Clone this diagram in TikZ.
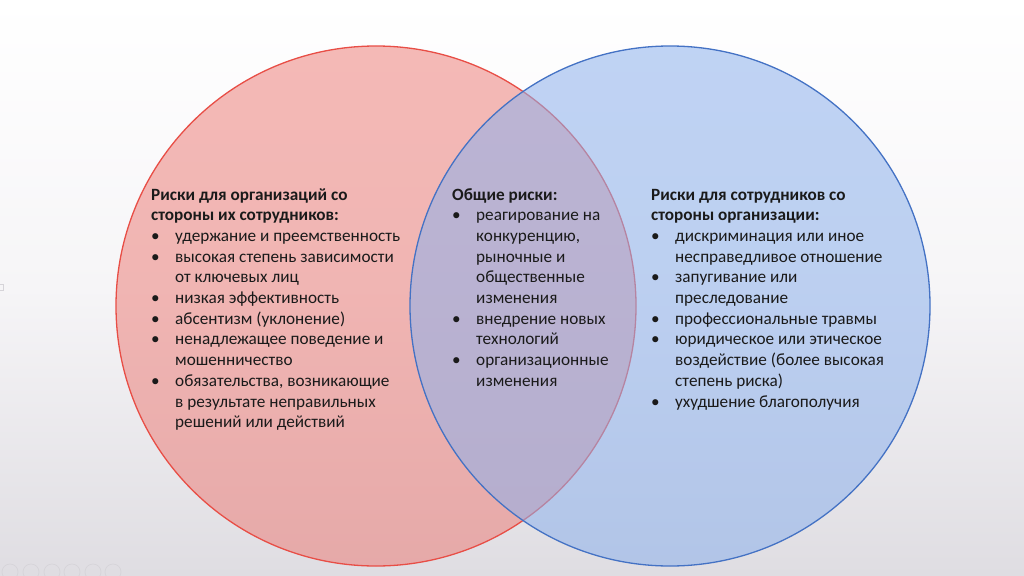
\documentclass[tikz,border=0pt]{standalone}
\usepackage{fontspec}
\setmainfont{Carlito}
\definecolor{bgbot}{RGB}{223,221,226}
\definecolor{redfill}{RGB}{236,118,112}
\definecolor{redline}{RGB}{232,78,70}
\definecolor{bluefill}{RGB}{141,177,236}
\definecolor{blueline}{RGB}{68,114,196}
\definecolor{txt}{RGB}{26,26,26}
\definecolor{iconline}{RGB}{214,212,217}
\newcommand{\bul}[1]{\makebox[24pt][l]{\textbullet}#1}
\newcommand{\cont}[1]{\hspace*{24pt}#1}
\tikzset{
  venn/.style={circle, minimum size=520pt, inner sep=0pt, line width=1.3pt},
  block/.style={anchor=base west, inner sep=0pt, text=txt, font=\fontsize{17.2}{20.7}\selectfont},
  icon/.style={circle, minimum size=16pt, inner sep=0pt, draw=iconline, line width=0.7pt}
}
\begin{document}
\begin{tikzpicture}[x=1pt,y=-1pt]
\useasboundingbox (0,0) rectangle (1024,575);
\shade[top color=white, bottom color=bgbot, middle color={rgb,255:red,246;green,245;blue,247}] (0,0) rectangle (1024,575);
\node[venn, fill=redfill, fill opacity=0.5, draw=redline, draw opacity=1] (red) at (376,306) {};
\node[venn, fill=bluefill, fill opacity=0.55, draw=blueline, draw opacity=1] (blue) at (670,306) {};
\node[block] (lefttext) at (151,200) {\parbox[t]{280pt}{%
\textbf{Риски для организаций со}\\
\textbf{стороны их сотрудников:}\\
\bul{удержание и преемственность}\\
\bul{высокая степень зависимости}\\
\cont{от ключевых лиц}\\
\bul{низкая эффективность}\\
\bul{абсентизм (уклонение)}\\
\bul{ненадлежащее поведение и}\\
\cont{мошенничество}\\
\bul{обязательства, возникающие}\\
\cont{в результате неправильных}\\
\cont{решений или действий}}};
\node[block] (midtext) at (452,200) {\parbox[t]{200pt}{%
\textbf{Общие риски:}\\
\bul{реагирование на}\\
\cont{конкуренцию,}\\
\cont{рыночные и}\\
\cont{общественные}\\
\cont{изменения}\\
\bul{внедрение новых}\\
\cont{технологий}\\
\bul{организационные}\\
\cont{изменения}}};
\node[block] (righttext) at (651,200) {\parbox[t]{280pt}{%
\textbf{Риски для сотрудников со}\\
\textbf{стороны организации:}\\
\bul{дискриминация или иное}\\
\cont{несправедливое отношение}\\
\bul{запугивание или}\\
\cont{преследование}\\
\bul{профессиональные травмы}\\
\bul{юридическое или этическое}\\
\cont{воздействие (более высокая}\\
\cont{степень риска)}\\
\bul{ухудшение благополучия}}};
\foreach \i/\x in {1/10,2/31,3/52,4/72,5/93,6/113}{
  \node[icon] (ic\i) at (\x,572) {};
}
\node[draw=iconline, line width=0.8pt, minimum size=6pt, inner sep=0pt] (sq) at (0,287) {};
\end{tikzpicture}
\end{document}
